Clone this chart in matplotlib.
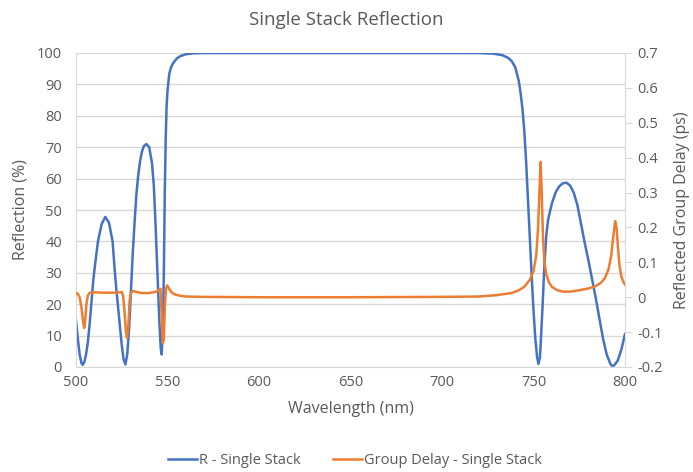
import matplotlib
matplotlib.use("Agg")
import matplotlib.pyplot as plt
from matplotlib.lines import Line2D

# Reflection (%) of the single stack
wl_r = [500, 501, 502, 503, 503.6, 504.5, 505.5, 506.5, 507.5, 508.5, 509.5, 510.5, 512, 514, 516, 518,
        520, 521, 522, 523, 524, 525, 526, 527, 528, 529, 530, 531, 532, 533, 534, 535, 536, 537,
        538.5, 540, 541.5, 542.5, 543.5, 544.5, 545.5, 546.3, 546.8, 547.5, 548, 548.5, 549, 549.5,
        550, 551, 552, 553, 555, 557, 560, 564, 570, 600, 650, 700, 720, 728, 733, 736, 738, 740,
        742, 743, 744, 745, 746, 747, 748, 749, 750, 751, 752, 752.7, 753.5, 754, 755, 756, 757, 758,
        760, 762, 764, 766, 768, 770, 772, 774, 776, 778, 780, 782, 784, 786, 788, 790, 792, 793,
        794, 796, 798, 800]
refl = [15, 9, 4, 1.2, 0.7, 1.5, 4, 8, 14, 21, 28, 33, 40, 45.5, 47.8, 46,
        40, 32, 25, 19, 13, 7, 2.5, 0.8, 4, 12, 24, 36, 46, 55, 61, 65.5, 68.5, 70.3,
        71, 70, 65, 58, 45, 30, 15, 6, 4, 12, 30, 55, 72, 83,
        88, 93.5, 95.5, 96.7, 98.2, 99.0, 99.6, 99.9, 100, 100, 100, 100, 100, 99.8, 99.3, 98.5, 97.5, 95.5,
        91, 87, 82, 75, 65, 53, 41, 29, 18, 9, 3, 1, 3, 8, 20, 33, 42, 47,
        52, 55.5, 57.5, 58.5, 58.7, 57.8, 55.5, 51.5, 45.5, 39.5, 34, 28, 22, 15.5, 9, 4, 1, 0.3,
        0.5, 2, 5.5, 10.5]

# Reflected group delay (ps)
wl_gd = [500, 501, 502, 503, 504, 504.5, 505, 505.7, 506.5, 507.5, 510, 515, 520, 524, 525, 525.7,
         526.5, 527.3, 527.9, 528.5, 529.3, 530, 531, 533, 536, 540, 544, 545.5, 546.2, 546.8, 547.4,
         548, 548.6, 549.2, 549.8, 550.8, 552, 554, 557, 560, 570, 600, 650, 700, 720, 730, 738,
         742, 745, 748, 750, 751.5, 752.5, 753.3, 753.9, 754.5, 755.2, 756, 757, 758.5, 760, 763,
         766, 770, 775, 780, 784, 787, 789, 791, 792.5, 793.5, 794.6, 795.4, 796.2, 797, 798, 799, 800]
gdelay = [0.012, 0.010, 0.000, -0.030, -0.075, -0.088, -0.070, -0.020, 0.005, 0.013, 0.014, 0.013, 0.013, 0.014, 0.015, 0.005,
          -0.04, -0.10, -0.117, -0.09, -0.01, 0.012, 0.018, 0.015, 0.012, 0.012, 0.016, 0.022, 0.024, -0.05, -0.131,
          -0.12, -0.02, 0.025, 0.034, 0.025, 0.015, 0.008, 0.004, 0.002, 0.001, 0.000, 0.000, 0.001, 0.002, 0.006, 0.012,
          0.02, 0.03, 0.05, 0.075, 0.12, 0.20, 0.31, 0.388, 0.30, 0.17, 0.10, 0.065, 0.042, 0.030, 0.020,
          0.016, 0.016, 0.020, 0.025, 0.032, 0.042, 0.055, 0.08, 0.12, 0.17, 0.218, 0.20, 0.14, 0.09, 0.06, 0.045, 0.036]

x_ticks = [500, 550, 600, 650, 700, 750, 800]
y_left_ticks = [0, 10, 20, 30, 40, 50, 60, 70, 80, 90, 100]
y_right_ticks = [-0.2, -0.1, 0, 0.1, 0.2, 0.3, 0.4, 0.5, 0.6, 0.7]

BLUE = "#4472C4"
ORANGE = "#ED7D31"
TXT = "#595959"
GRID = "#D9D9D9"

plt.rcParams['font.family'] = ['Open Sans', 'DejaVu Sans']

fig = plt.figure(figsize=(6.93, 4.72), dpi=100)
ax = fig.add_axes([76/693, 1-367/472, (625-76)/693, (367-53)/472])
ax2 = ax.twinx()

ax.plot(wl_r, refl, color=BLUE, lw=1.8, solid_joinstyle='round')
ax2.plot(wl_gd, gdelay, color=ORANGE, lw=1.8, solid_joinstyle='round')

ax.set_xlim(500, 800)
ax.set_ylim(0, 100)
ax2.set_ylim(-0.2, 0.7)
ax.set_xticks(x_ticks)
ax.set_yticks(y_left_ticks)
ax2.set_yticks(y_right_ticks)
ax2.set_yticklabels([f"{v:g}" for v in y_right_ticks])

ax.grid(axis='y', color=GRID, lw=1)
ax.set_axisbelow(True)

for a in (ax, ax2):
    for s in a.spines.values():
        s.set_visible(False)
ax.spines['bottom'].set_visible(True)
ax.spines['bottom'].set_color(GRID)
ax.spines['left'].set_visible(True)
ax.spines['left'].set_color(GRID)
ax2.spines['right'].set_visible(True)
ax2.spines['right'].set_color(GRID)

ax.tick_params(axis='both', length=0, labelsize=10.5, colors=TXT, pad=6)
ax.tick_params(axis='y', pad=10)
ax2.tick_params(axis='y', length=5, color=GRID, labelsize=10.5, labelcolor=TXT, pad=4)

ax.set_xlabel("Wavelength (nm)", fontsize=11.5, color=TXT, labelpad=8)
ax.set_ylabel("Reflection (%)", fontsize=11.5, color=TXT, labelpad=6)
ax2.set_ylabel("Reflected Group Delay (ps)", fontsize=11.5, color=TXT, labelpad=8)

fig.text(0.5, 1-20/472, "Single Stack Reflection", ha='center', va='center', fontsize=13.5, color=TXT)

handles = [Line2D([], [], color=BLUE, lw=1.8), Line2D([], [], color=ORANGE, lw=1.8)]
leg = fig.legend(handles, ["R - Single Stack", "Group Delay - Single Stack"], loc='center',
                 bbox_to_anchor=(355/693, 1-461/472), ncol=2, frameon=False, fontsize=10.5,
                 handlelength=2.0, handletextpad=0.15, columnspacing=2.2)
for t in leg.get_texts():
    t.set_color(TXT)

fig.savefig("out.png", dpi=100)
